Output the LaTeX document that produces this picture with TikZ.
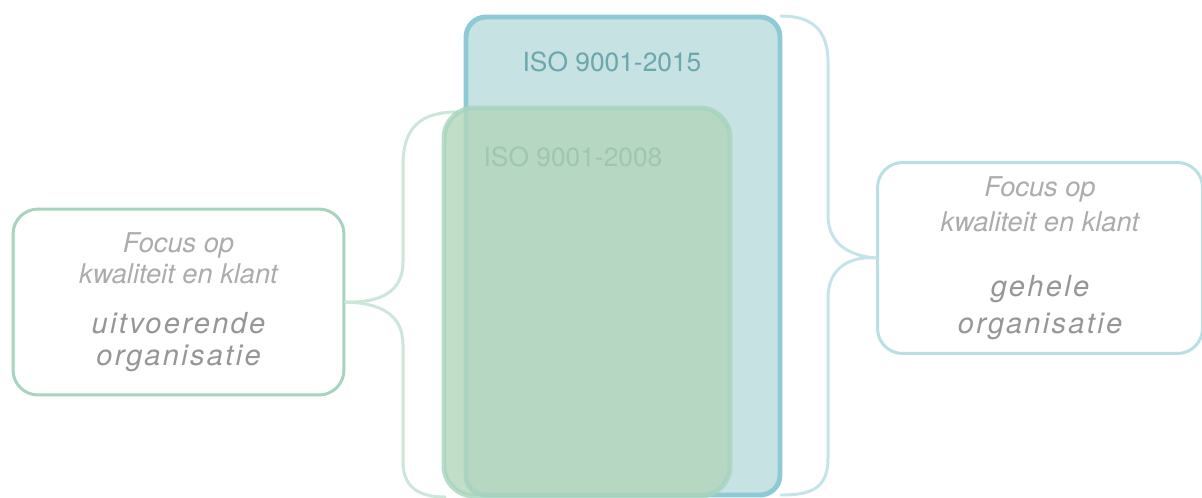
\documentclass[tikz,border=0pt]{standalone}
\usepackage{fontspec}
\setmainfont{TeX Gyre Heros}
\definecolor{bluefill}{RGB}{198,226,226}
\definecolor{bluedraw}{RGB}{142,202,213}
\definecolor{grnfill}{RGB}{178,214,188}
\definecolor{grndraw}{RGB}{166,212,190}
\definecolor{lbrace}{RGB}{204,231,218}
\definecolor{rbrace}{RGB}{196,228,233}
\definecolor{lighttxt}{RGB}{172,172,172}
\definecolor{darktxt}{RGB}{150,150,150}
\definecolor{bluetxt}{RGB}{106,168,174}
\definecolor{grntxt}{RGB}{158,198,176}
\newcommand{\spaced}[1]{{\fontsize{16.5}{18.2}\selectfont\addfontfeatures{LetterSpace=8}\itshape\textcolor{darktxt}{#1}}}
\begin{document}
\begin{tikzpicture}[x=0.02cm, y=-0.02cm,
  sidebox/.style={draw, line width=1.7pt, rounded corners=0.5cm, align=center,
    text=lighttxt, font=\fontsize{15.5}{18.2}\selectfont,
    minimum width=6.62cm, minimum height=3.72cm, inner sep=0pt},
  bracestyle/.style={line width=1.7pt, line cap=round},
  isolabel/.style={font=\fontsize{15}{18}\selectfont, inner sep=0pt}]

\clip (0,0) rectangle (1202,497);

% side boxes
\node[sidebox, draw=grndraw] (lbox) at (178.5,302)
  {\itshape Focus op\\ \itshape kwaliteit en klant\\[10pt]
   \spaced{uitvoerende}\\ \spaced{organisatie}};
\node[sidebox, draw=rbrace!80!bluedraw, minimum width=6.5cm, minimum height=3.82cm,
  font=\fontsize{15.5}{20}\selectfont] (rbox) at (1040,258)
  {\itshape Focus op\\ \itshape kwaliteit en klant\\[17pt]
   \spaced{gehele}\\[1pt] \spaced{organisatie}};

% braces
\draw[bracestyle, lbrace] (457,112) .. controls (420,112) and (403,128) .. (403,165) -- (403,262)
  .. controls (403,292) and (380,303) .. (lbox.east);
\draw[bracestyle, lbrace] (lbox.east) .. controls (380,303) and (403,314) .. (403,345) -- (403,462)
  .. controls (403,488) and (420,497) .. (445,497);
\draw[bracestyle, rbrace] (781,16) .. controls (812,16) and (828,30) .. (828,62) -- (828,215)
  .. controls (828,246) and (852,256) .. (rbox.west);
\draw[bracestyle, rbrace] (rbox.west) .. controls (852,256) and (828,266) .. (828,298) -- (828,458)
  .. controls (828,488) and (812,495) .. (781,495);

% ISO 9001-2015
\draw[line width=2.8pt, draw=bluedraw, fill=bluefill, rounded corners=0.4cm] (466,17) rectangle (780,495);
\node[isolabel, text=bluetxt] (t2015) at (612,62) {ISO 9001-2015};

% ISO 9001-2008
\draw[line width=2.8pt, draw=grndraw, fill=grnfill, opacity=0.8, rounded corners=0.6cm] (444,108) rectangle (730,496);
\node[isolabel, text=grntxt] (t2008) at (573,157) {ISO 9001-2008};

\end{tikzpicture}
\end{document}
